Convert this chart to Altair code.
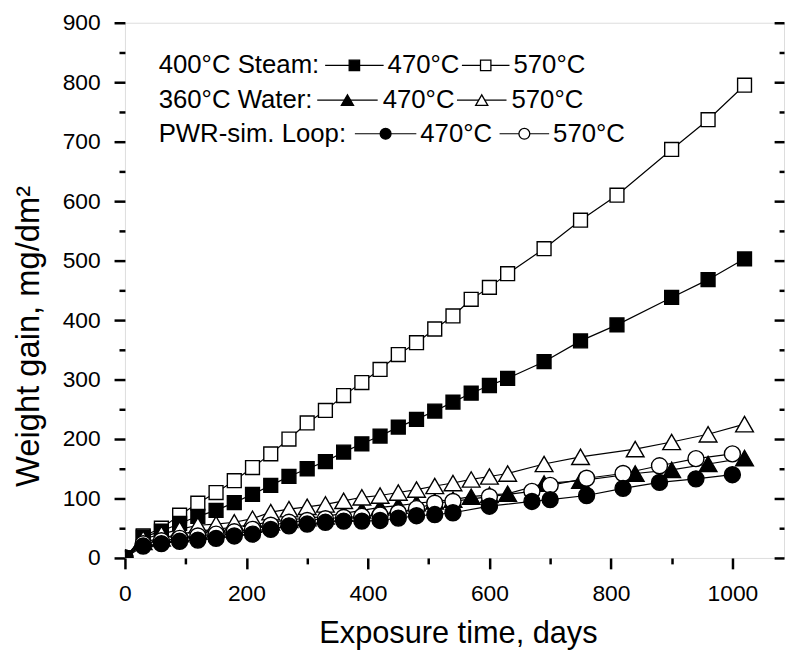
import altair as alt
import pandas as pd

FONT = "Liberation Sans"

# ---------------- data ----------------
days_sq = [30, 60, 90, 120, 150, 180, 210, 240, 270, 300, 330, 360, 390, 420, 450,
           480, 510, 540, 570, 600, 630, 690, 750, 810, 900, 960, 1020]
steam_470 = [35, 45, 58, 70, 80, 93, 107, 122, 137, 150, 162, 178, 192, 205, 220,
             233, 247, 262, 277, 290, 302, 330, 365, 392, 438, 468, 503]
steam_570 = [37, 50, 72, 92, 110, 130, 152, 175, 200, 227, 248, 273, 295, 317, 342,
             362, 385, 407, 435, 455, 478, 520, 568, 610, 687, 737, 795]

days_tri = [30, 60, 90, 120, 150, 180, 210, 240, 270, 300, 330, 360, 390, 420, 450,
            480, 510, 540, 570, 600, 630, 690, 750, 840, 900, 960, 1020]
water_470 = [27, 33, 40, 45, 48, 52, 56, 60, 64, 67, 70, 75, 80, 85, 88,
             92, 95, 98, 103, 106, 108, 125, 130, 142, 148, 158, 168]
water_570 = [32, 40, 48, 55, 57, 60, 66, 77, 82, 86, 90, 96, 102, 105, 110,
             115, 121, 126, 132, 137, 142, 158, 170, 183, 195, 208, 225]

days_circ = [30, 60, 90, 120, 150, 180, 210, 240, 270, 300, 330, 360, 390, 420, 450,
             480, 510, 540, 600, 670, 700, 760, 820, 880, 940, 1000]
loop_470 = [20, 24, 28, 30, 33, 37, 40, 48, 54, 57, 60, 62, 62, 63, 67,
            71, 73, 76, 87, 95, 98, 105, 117, 127, 133, 140]
loop_570 = [24, 29, 33, 37, 40, 44, 48, 55, 60, 63, 66, 68, 70, 72, 76,
            83, 92, 95, 103, 112, 122, 134, 142, 155, 167, 175]

x_major = [0, 200, 400, 600, 800, 1000]
x_minor = [100, 300, 500, 700, 900]
y_major = [0, 100, 200, 300, 400, 500, 600, 700, 800, 900]
y_minor = [50, 150, 250, 350, 450, 550, 650, 750, 850]

legend_groups = ["400\u00b0C Steam:", "360\u00b0C Water:", "PWR-sim. Loop:"]
legend_temps = ["470\u00b0C", "570\u00b0C"]

x_title = "Exposure time, days"
y_title = "Weight gain, mg/dm\u00b2"

# ---------------- chart ----------------
W, H = 665, 540
xscale = alt.Scale(domain=[0, 1085], nice=False, zero=False)
yscale = alt.Scale(domain=[0, 900], nice=False, zero=False)


def series(days, vals, shape, filled, size):
    d = pd.DataFrame({"day": [0] + days, "gain": [0] + vals})
    base = alt.Chart(d).encode(
        x=alt.X("day:Q", scale=xscale, axis=None),
        y=alt.Y("gain:Q", scale=yscale, axis=None),
    )
    line = base.mark_line(color="black", strokeWidth=1.2, clip=True)
    pts = base.mark_point(
        shape=shape, filled=True, fill="black" if filled else "white",
        stroke="black", strokeWidth=1.4, size=size, opacity=1, clip=True,
    )
    return [line, pts]


ax_df = pd.DataFrame({"day": [0], "gain": [0]})


def axis_layer(xaxis, yaxis):
    return alt.Chart(ax_df).mark_point(opacity=0).encode(
        x=alt.X("day:Q", scale=xscale, axis=xaxis),
        y=alt.Y("gain:Q", scale=yscale, axis=yaxis),
    )


common = dict(domain=False, grid=False, tickColor="black", tickWidth=2.5,
              labelFont=FONT, labelColor="black", titleFont=FONT,
              titleColor="black", titleFontWeight="normal")

axes = [
    axis_layer(
        alt.Axis(orient="bottom", values=x_major, tickSize=11, labelPadding=14,
                 labelFontSize=23, format="d", title=x_title, titleFontSize=31,
                 titleBaseline="alphabetic", titleY=85, titleX=336,
                 labelFlush=False, **common),
        alt.Axis(orient="left", values=y_major, tickSize=11, labelPadding=14,
                 labelFontSize=23, format="d", title=y_title, titleFontSize=33,
                 titleBaseline="alphabetic", titleX=-87, titleY=316, titleAngle=270,
                 labelFlush=False, **common),
    ),
    axis_layer(
        alt.Axis(orient="bottom", values=x_minor, tickSize=6, labels=False,
                 title=None, **common),
        alt.Axis(orient="left", values=y_minor, tickSize=6, labels=False,
                 title=None, **common),
    ),
    axis_layer(
        None,
        alt.Axis(orient="right", values=y_major, tickSize=10, offset=-10,
                 labels=False, title=None, **common),
    ),
    axis_layer(
        None,
        alt.Axis(orient="right", values=y_minor, tickSize=5, offset=-5,
                 labels=False, title=None, **common),
    ),
]

layers = list(axes)
layers += series(days_sq, steam_570, "square", False, 196)
layers += series(days_sq, steam_470, "square", True, 196)
layers += series(days_tri, water_470, "triangle-up", True, 320)
layers += series(days_tri, water_570, "triangle-up", False, 320)
layers += series(days_circ, loop_570, "circle", False, 260)
layers += series(days_circ, loop_470, "circle", True, 260)

# ---------------- in-plot legend ----------------
one = pd.DataFrame({"a": [0]})


def ltext(txt, x, y):
    return alt.Chart(one).mark_text(
        text=txt, align="left", baseline="middle", font=FONT, fontSize=26,
        color="black",
    ).encode(x=alt.value(x), y=alt.value(y))


def lsample(x1, x2, y, shape, filled, size):
    rule = alt.Chart(one).mark_rule(color="black", strokeWidth=1.2).encode(
        x=alt.value(x1), x2=alt.value(x2), y=alt.value(y))
    pt = alt.Chart(one).mark_point(
        shape=shape, filled=True, fill="black" if filled else "white",
        stroke="black", strokeWidth=1.3, size=size, opacity=1,
    ).encode(x=alt.value((x1 + x2) / 2), y=alt.value(y))
    return [rule, pt]


rows = [
    # y, sample1 (x1,x2), text470 x, sample2 (x1,x2), text570 x, shape, size
    (43, (202, 261), 265, (340, 388), 392, "square", 110),
    (78, (194, 255), 260, (335, 385), 390, "triangle-up", 150),
    (112, (232, 294), 298, (378, 428), 432, "circle", 120),
]
for (y, s1, t1, s2, t2, shape, size), grp in zip(rows, legend_groups):
    layers.append(ltext(grp, 34, y))
    layers += lsample(s1[0], s1[1], y, shape, True, size)
    layers.append(ltext(legend_temps[0], t1, y))
    layers += lsample(s2[0], s2[1], y, shape, False, size)
    layers.append(ltext(legend_temps[1], t2, y))

chart = (
    alt.layer(*layers)
    .resolve_axis(x="independent", y="independent")
    .properties(
        width=W, height=H, autosize=alt.AutoSizeParams(type="none"),
        padding={"left": 118, "top": 12, "right": 2, "bottom": 91},
    )
    .configure_view(stroke="black", strokeWidth=2.5)
    .configure(background="white")
)

chart.save("out.html", embed_options={"renderer": "svg", "actions": False})
